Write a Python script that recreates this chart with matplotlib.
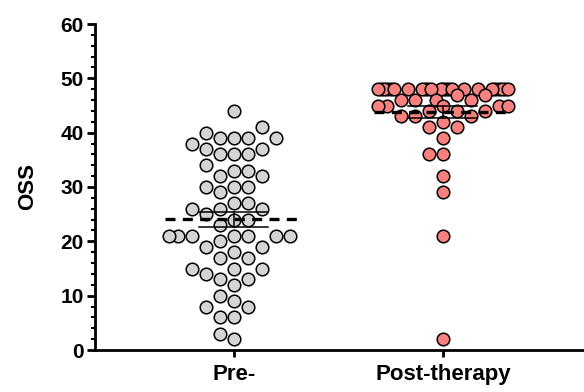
import numpy as np
import matplotlib.pyplot as plt

# OSS scores
groups = ['Pre-', 'Post-therapy']
pre = [44, 41, 40, 39, 39, 39, 39, 38, 37, 37, 36, 36, 36, 34, 33, 33, 32, 32,
       30, 30, 30, 29, 27, 27, 26, 26, 26, 25, 24, 24, 23,
       21, 21, 21, 21, 21, 21, 21, 20, 19, 19, 18, 17, 17,
       15, 15, 15, 14, 13, 13, 12, 10, 9, 8, 8, 6, 6, 3, 2]
post = [48] * 24 + [47, 47, 46, 46, 46, 46, 45, 45, 45, 45, 45, 44, 44, 44,
                    43, 43, 43, 42, 41, 41, 39, 36, 36, 32, 29, 21, 2]
colors = ['#D4D4D4', '#F7817F']

plt.rcParams['font.family'] = ['Liberation Sans', 'DejaVu Sans']
plt.rcParams['font.weight'] = 'bold'

fig = plt.figure(figsize=(5.84, 3.92), dpi=100)
ax = fig.add_axes([95 / 584, 42 / 392, 489 / 584, 326 / 392])
ax.set_xlim(-0.665, 1.675)
ax.set_ylim(0, 60)

# pixel scales, used to lay the dots out like a swarm
xpx = 489 / (1.675 + 0.665)
ypx = 326 / 60
d = 14.0      # spacing of dots side by side, px
dy_min = 12.5 # dots closer than this in y may not overlap in x
W = 65        # max half width of a swarm in px


def swarm(vals):
    vals = np.asarray(vals, dtype=float)
    uniq, cnt = np.unique(vals, return_counts=True)
    counts = dict(zip(uniq, cnt))
    cand = np.arange(-W, W + 0.01, 0.5)
    cand = cand[np.argsort(np.abs(cand), kind='stable')]
    xs = np.zeros(len(vals))
    px, py, pv = [], [], []
    for i in np.argsort(vals, kind='stable'):
        y = vals[i] * ypx
        if px:
            ax_ = np.array(px)
            ay_ = np.array(py)
            same = np.array(pv) == vals[i]
            sp = min(d, 2 * W / max(counts[vals[i]] - 1, 1))
            req = np.where(same, sp, d)
            near = np.abs(y - ay_) < dy_min
            gap = np.abs(cand[:, None] - ax_[None, :])
            gap = np.where(near[None, :], gap / req[None, :], np.inf)
            ok = (gap >= 1 - 1e-6).all(axis=1)
            if ok.any():
                x = cand[ok][0]
            else:
                x = cand[np.argmax(gap.min(axis=1))]
        else:
            x = 0.0
        xs[i] = x
        px.append(x)
        py.append(y)
        pv.append(vals[i])
    return xs / xpx


for k, vals in enumerate([pre, post]):
    off = swarm(vals)
    ax.scatter(k + off, vals, s=82, c=colors[k], edgecolors='black',
               linewidths=1.1, zorder=3)
    m = np.mean(vals)
    sem = np.std(vals, ddof=1) / np.sqrt(len(vals))
    ax.plot([k - 0.33, k + 0.33], [m, m], color='black', lw=2.4,
            dashes=(3, 2.2), zorder=4)
    ax.plot([k - 0.165, k + 0.165], [m + sem, m + sem], color='black', lw=1.1, zorder=4)
    ax.plot([k - 0.165, k + 0.165], [m - sem, m - sem], color='black', lw=1.1, zorder=4)
    ax.plot([k, k], [m - sem, m + sem], color='black', lw=1.1, zorder=4)

ax.spines['top'].set_visible(False)
ax.spines['right'].set_visible(False)
ax.spines['left'].set_linewidth(2)
ax.spines['bottom'].set_linewidth(2)

ax.set_yticks(range(0, 61, 10))
ax.set_yticks(range(0, 61, 2), minor=True)
ax.tick_params(axis='y', which='major', length=6, width=2, labelsize=15, pad=2)
ax.tick_params(axis='y', which='minor', length=3, width=1.5)
ax.set_xticks([0, 1])
ax.set_xticklabels(groups)
ax.tick_params(axis='x', length=5, width=2, labelsize=16, pad=5)
ax.set_ylabel('OSS', fontsize=16, fontweight='bold', labelpad=16)

fig.savefig('out.png', dpi=100)
